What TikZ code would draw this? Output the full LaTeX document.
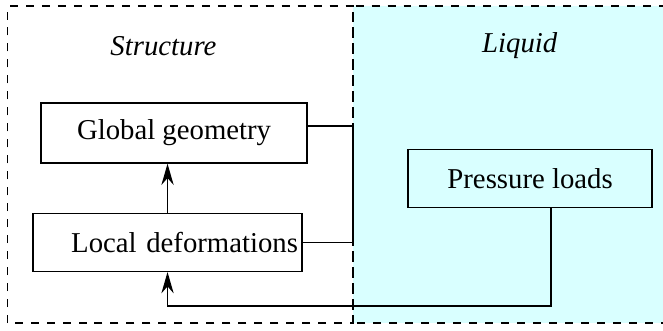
\documentclass[tikz,border=0pt]{standalone}
\usepackage{fontspec}
\setmainfont{Liberation Serif}
\usepackage{xcolor}
\usepackage{tikz}
\usetikzlibrary{arrows.meta, positioning}
\definecolor{liqbg}{RGB}{217,255,255}

\begin{document}
\begin{tikzpicture}[
  box/.style={draw, line width=0.5pt, minimum height=0.76cm, inner xsep=1.5pt, font=\fontsize{10.8}{13}\selectfont},
  zone/.style={draw, dashed, line width=0.5pt},
  arr/.style={-{Stealth[length=8pt, width=4.6pt, inset=2.6pt]}, line width=0.5pt},
  lnk/.style={line width=0.5pt}
]
  \useasboundingbox (0,0) rectangle (8.75,4.356);
  \begin{scope}
    \clip (0,0) rectangle (8.75,4.356);
    \fill[liqbg] (4.66,0.092) rectangle (9.2,4.277);
    \draw[zone] (0.10,0.092) rectangle (4.66,4.277);
    \draw[zone] (4.66,0.092) rectangle (9.2,4.277);
  \end{scope}

  \node[font=\fontsize{10.8}{13}\selectfont] (struct) at (2.157,3.749) {\itshape Structure};
  \node[font=\fontsize{10.8}{13}\selectfont] (liquid) at (6.86,3.749) {\itshape Liquid};

  \node[box, minimum width=3.51cm, minimum height=0.79cm] (glob) at (2.297,2.600) {Global geometry};
  \node[box, minimum width=3.55cm, text width=3.55cm-3pt, align=right] (loc) at (2.211,1.155) {Local deformations};
  \node[box, fill=liqbg, minimum width=3.22cm] (press) at (6.996,2.0) {Pressure loads};

  \coordinate (iface) at (4.66,0);
  \coordinate (floor) at (0,0.317);

  \draw[arr] (loc.north) -- (loc.north |- glob.south);
  \draw[lnk] ([yshift=0.093cm]glob.east) -- ([yshift=0.093cm]glob.east -| iface)
    -- (loc.east -| iface) -- (loc.east);
  \draw[arr] ([xshift=0.277cm]press.south) -- ([xshift=0.277cm]press.south |- floor)
    -- (loc.south |- floor) -- (loc.south);
\end{tikzpicture}
\end{document}
